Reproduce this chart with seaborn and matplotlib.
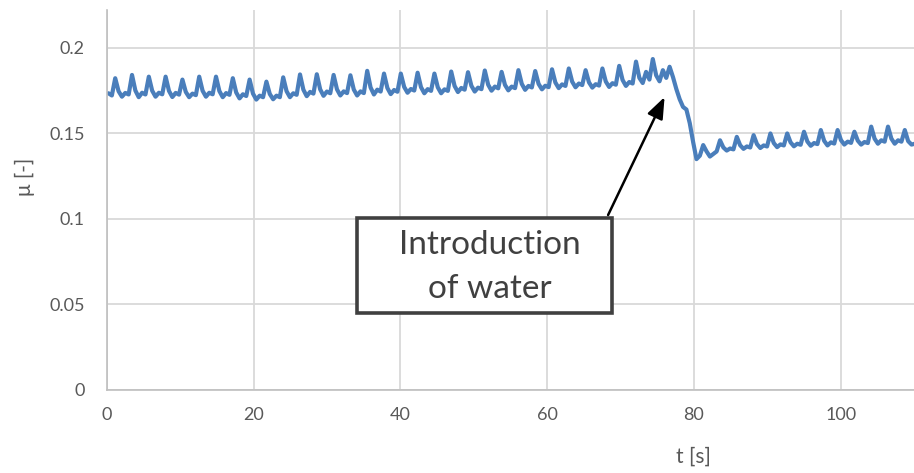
import numpy as np
import pandas as pd
import matplotlib
matplotlib.use("Agg")
import matplotlib.pyplot as plt
from matplotlib.patches import Rectangle
import seaborn as sns

# Friction coefficient record, sampled every 0.458 s starting at t = 0.2 s
t_start = 0.2
t_step = 0.458
mu = [
    0.1735, 0.1722,
    0.1823, 0.1747, 0.1715, 0.1737, 0.1728,
    0.1842, 0.1751, 0.1712, 0.1738, 0.1728,
    0.1832, 0.1750, 0.1715, 0.1738, 0.1729,
    0.1832, 0.1749, 0.1713, 0.1737, 0.1727,
    0.1815, 0.1743, 0.1712, 0.1733, 0.1724,
    0.1832, 0.1750, 0.1715, 0.1738, 0.1729,
    0.1832, 0.1748, 0.1712, 0.1736, 0.1726,
    0.1823, 0.1740, 0.1705, 0.1729, 0.1719,
    0.1815, 0.1733, 0.1698, 0.1721, 0.1712,
    0.1803, 0.1731, 0.1700, 0.1721, 0.1712,
    0.1828, 0.1747, 0.1712, 0.1735, 0.1726,
    0.1845, 0.1756, 0.1718, 0.1743, 0.1733,
    0.1846, 0.1758, 0.1720, 0.1745, 0.1735,
    0.1842, 0.1758, 0.1722, 0.1746, 0.1736,
    0.1840, 0.1757, 0.1722, 0.1746, 0.1736,
    0.1866, 0.1769, 0.1728, 0.1756, 0.1745,
    0.1850, 0.1766, 0.1730, 0.1754, 0.1744,
    0.1850, 0.1772, 0.1738, 0.1760, 0.1751,
    0.1855, 0.1771, 0.1735, 0.1759, 0.1749,
    0.1850, 0.1770, 0.1735, 0.1758, 0.1749,
    0.1862, 0.1778, 0.1742, 0.1766, 0.1756,
    0.1858, 0.1779, 0.1745, 0.1768, 0.1759,
    0.1868, 0.1785, 0.1750, 0.1774, 0.1764,
    0.1860, 0.1784, 0.1752, 0.1774, 0.1765,
    0.1870, 0.1790, 0.1755, 0.1778, 0.1769,
    0.1865, 0.1790, 0.1758, 0.1779, 0.1771,
    0.1875, 0.1798, 0.1765, 0.1787, 0.1778,
    0.1880, 0.1803, 0.1770, 0.1792, 0.1783,
    0.1870, 0.1799, 0.1768, 0.1788, 0.1780,
    0.1880, 0.1804, 0.1772, 0.1794, 0.1785,
    0.1895, 0.1813, 0.1778, 0.1801, 0.1792,
    0.1920, 0.1825, 0.1795, 0.1860, 0.1815,
    0.1935, 0.1840, 0.1805, 0.1870, 0.1825,
    # water introduced: friction drops
    0.1890, 0.1830, 0.1760, 0.1700, 0.1655,
    0.1640, 0.1560, 0.1450, 0.1350, 0.1370,
    0.1432, 0.1395, 0.1365, 0.1380, 0.1395,
    0.1460, 0.1418, 0.1400, 0.1412, 0.1407,
    0.1480, 0.1431, 0.1410, 0.1424, 0.1418,
    0.1490, 0.1438, 0.1415, 0.1430, 0.1424,
    0.1500, 0.1444, 0.1420, 0.1436, 0.1430,
    0.1500, 0.1448, 0.1425, 0.1440, 0.1434,
    0.1510, 0.1453, 0.1428, 0.1444, 0.1438,
    0.1520, 0.1457, 0.1430, 0.1448, 0.1441,
    0.1520, 0.1461, 0.1435, 0.1452, 0.1445,
    0.1510, 0.1458, 0.1435, 0.1450, 0.1444,
    0.1540, 0.1470, 0.1440, 0.1460, 0.1452,
    0.1540, 0.1470, 0.1440, 0.1460, 0.1452,
    0.1520, 0.1455, 0.1435, 0.1440,
]
t = t_start + t_step * np.arange(len(mu))

x_ticks = [0, 20, 40, 60, 80, 100]
y_ticks = [0, 0.05, 0.1, 0.15, 0.2]
y_tick_labels = ["0", "0.05", "0.1", "0.15", "0.2"]
note_lines = ["Introduction", "of water"]

df = pd.DataFrame({"t": t, "mu": mu})

sns.set_style("white")
plt.rcParams["font.family"] = ["Lato", "DejaVu Sans"]

fig = plt.figure(figsize=(9.14, 4.73), dpi=100)
ax = fig.add_axes([0.1171, 0.1755, 0.8829, 0.8034])

sns.lineplot(data=df, x="t", y="mu", ax=ax, color="#4a7ebb", linewidth=3.0,
             solid_joinstyle="round", solid_capstyle="round")

ax.set_xlim(0, 110)
ax.set_ylim(0, 0.2222)
ax.set_xticks(x_ticks)
ax.set_xticklabels([str(v) for v in x_ticks])
ax.set_yticks(y_ticks)
ax.set_yticklabels(y_tick_labels)
ax.grid(True, color="#d9d9d9", linewidth=1.3)
ax.set_axisbelow(True)

for side in ("top", "right"):
    ax.spines[side].set_visible(False)
for side in ("left", "bottom"):
    ax.spines[side].set_color("#bfbfbf")
    ax.spines[side].set_linewidth(1.2)

ax.tick_params(axis="both", length=0, labelsize=13, colors="#595959")
ax.tick_params(axis="x", pad=12)
ax.tick_params(axis="y", pad=16)

ax.set_xlabel("t [s]", fontsize=15, color="#595959")
ax.xaxis.set_label_coords((693 - 107) / 807, -0.15)
ax.set_ylabel("μ [-]", fontsize=15, color="#595959")
ax.yaxis.set_label_coords(-0.089, 0.56)

# arrow pointing at the moment water is added
ax.annotate("", xy=(76.0, 0.1713), xytext=(68.3, 0.1023),
            arrowprops=dict(arrowstyle="-|>,head_length=1.3,head_width=0.5",
                            color="black", lw=1.8, shrinkA=0, shrinkB=0),
            zorder=4)

# framed note below the arrow
ax.add_patch(Rectangle((34.06, 0.045), 68.8 - 34.06, 0.1006 - 0.045,
                       facecolor="white", edgecolor="#404040",
                       linewidth=2.6, zorder=5))
ax.text(52.2, 0.0850, note_lines[0], ha="center", va="center",
        fontsize=24, color="#404040", zorder=6)
ax.text(52.2, 0.0590, note_lines[1], ha="center", va="center",
        fontsize=24, color="#404040", zorder=6)

fig.savefig("out.png", dpi=100)
